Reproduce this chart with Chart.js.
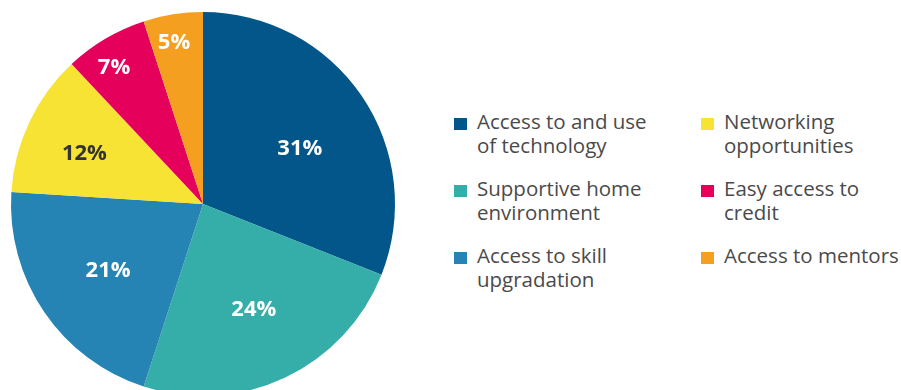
<!DOCTYPE html>
<html>
<head>
<meta charset="utf-8">
<script src="https://cdn.jsdelivr.net/npm/chart.js@4/dist/chart.umd.min.js"></script>
<style>
  html, body { margin: 0; padding: 0; background: #fff; overflow: hidden; }
  #wrap { position: relative; width: 901px; height: 390px; overflow: hidden; }
  #pieBox { position: absolute; left: 0; top: 0; width: 420px; height: 400px; }
  #legend { position: absolute; left: 454px; top: 109px; font-family: "Open Sans", sans-serif; font-size: 20.5px; color: #4a4a4a; line-height: 24px; }
  .item { position: absolute; width: 240px; }
  .item .sw { position: absolute; left: 0; top: 9px; width: 13px; height: 12px; }
  .item .tx { position: absolute; left: 23px; top: 0; white-space: nowrap; }
</style>
</head>
<body>
<div id="wrap">
  <div id="pieBox"><canvas id="myChart"></canvas></div>
  <div id="legend"></div>
</div>
<script>
var categories = [
    ['Access to and use', 'of technology'],
    ['Supportive home', 'environment'],
    ['Access to skill', 'upgradation'],
    ['Networking', 'opportunities'],
    ['Easy access to', 'credit'],
    ['Access to mentors']
];
var shares = [31, 24, 21, 12, 7, 5];
var colors = ['#03568a', '#35ada9', '#2684b5', '#f7e333', '#e4005b', '#f49f1f'];
var labelColors = ['#ffffff', '#ffffff', '#ffffff', '#333333', '#ffffff', '#ffffff'];
// label placement: fraction of radius, and nudge off the slice middle (degrees)
var labelRadius = [0.58, 0.61, 0.605, 0.67, 0.846, 0.852];
var labelShift = [4.6, -0.5, -1, -2.4, -2.6, -1.2];

// legend: 3 rows x 2 columns
var legend = document.getElementById('legend');
categories.forEach(function(lines, i){
    var col = Math.floor(i / 3), row = i % 3;
    var d = document.createElement('div');
    d.className = 'item';
    d.style.left = (col * 247) + 'px';
    d.style.top = (row * 67) + 'px';
    d.innerHTML = '<span class="sw" style="background:' + colors[i] + '"></span><span class="tx">' + lines.join('<br>') + '</span>';
    legend.appendChild(d);
});

var pctLabels = {
    id: 'pctLabels',
    afterDatasetsDraw: function(chart){
        var c = chart.ctx;
        var meta = chart.getDatasetMeta(0);
        c.save();
        c.font = 'bold 22px "Open Sans"';
        c.textAlign = 'center';
        c.textBaseline = 'middle';
        meta.data.forEach(function(arc, i){
            var p = arc.getProps(['x', 'y', 'startAngle', 'endAngle', 'outerRadius'], true);
            var a = (p.startAngle + p.endAngle) / 2 + labelShift[i] * Math.PI / 180;
            var r = p.outerRadius * labelRadius[i];
            c.fillStyle = labelColors[i];
            c.fillText(shares[i] + '%', p.x + Math.cos(a) * r, p.y + Math.sin(a) * r);
        });
        c.restore();
    }
};

const ctx = document.getElementById('myChart').getContext('2d');
const myChart = new Chart(ctx, {
    type: 'pie',
    data: {
        labels: categories.map(function(l){ return l.join(' '); }),
        datasets: [{
            data: shares,
            backgroundColor: colors,
            borderWidth: 0,
            hoverOffset: 0
        }]
    },
    options: {
        responsive: true,
        maintainAspectRatio: false,
        animation: false,
        layout: { padding: { left: 11, top: 12, right: 25, bottom: 4 } },
        plugins: {
            legend: { display: false },
            tooltip: { enabled: false }
        }
    },
    plugins: [pctLabels]
});
</script>
</body>
</html>
